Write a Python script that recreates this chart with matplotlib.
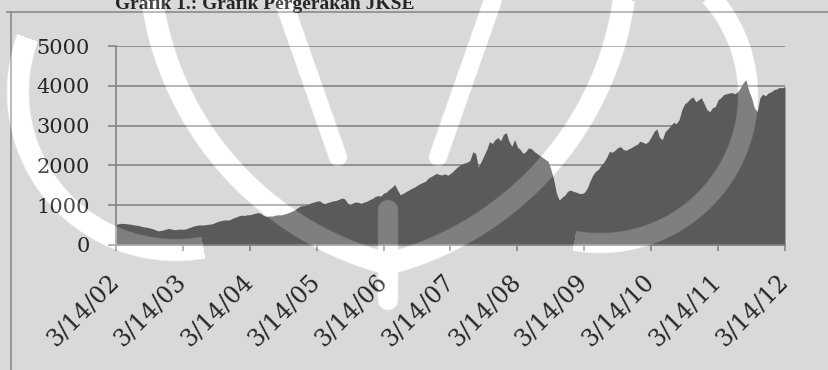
import numpy as np
import pandas as pd
import matplotlib
matplotlib.use("Agg")
import matplotlib.pyplot as plt
from matplotlib.lines import Line2D

# JKSE composite index, twice-monthly readings, Mar 2002 - Mar 2012
jkse_y02 = [520, 535, 545, 540, 530, 525, 510, 500, 490, 470, 455, 445,
            430, 410, 385, 355, 365, 380, 400, 420, 395, 385, 395, 400]
jkse_y03 = [395, 405, 430, 455, 480, 495, 505, 500, 510, 520, 525, 545,
            580, 600, 620, 630, 625, 640, 680, 700, 730, 750, 740, 760]
jkse_y04 = [760, 780, 800, 815, 790, 740, 720, 730, 725, 745, 760, 755,
            770, 790, 820, 845, 880, 930, 975, 990, 1000, 1030, 1060, 1080]
jkse_y05 = [1100, 1110, 1060, 1040, 1070, 1090, 1110, 1120, 1150, 1180, 1160, 1060,
            1010, 1060, 1080, 1070, 1050, 1080, 1100, 1140, 1170, 1220, 1240, 1230]
jkse_y06 = [1300, 1330, 1400, 1450, 1520, 1380, 1260, 1300, 1340, 1380, 1420, 1450,
            1500, 1540, 1570, 1600, 1680, 1720, 1760, 1800, 1770, 1760, 1790, 1750]
jkse_y07 = [1800, 1860, 1930, 1990, 2030, 2060, 2080, 2130, 2340, 2300, 1960, 2100,
            2250, 2400, 2600, 2550, 2650, 2700, 2620, 2780, 2820, 2600, 2480, 2650]
jkse_y08 = [2460, 2400, 2300, 2350, 2440, 2420, 2350, 2300, 2250, 2200, 2150, 2100,
            1900, 1650, 1300, 1130, 1200, 1250, 1350, 1380, 1350, 1330, 1300, 1290]
jkse_y09 = [1320, 1420, 1600, 1750, 1850, 1900, 2000, 2080, 2200, 2350, 2330, 2380,
            2450, 2470, 2400, 2380, 2420, 2450, 2500, 2530, 2610, 2580, 2550, 2600]
jkse_y10 = [2720, 2850, 2920, 2700, 2650, 2850, 2920, 3000, 3080, 3050, 3150, 3400,
            3550, 3600, 3680, 3720, 3600, 3650, 3700, 3550, 3400, 3350, 3450, 3480]
jkse_y11 = [3650, 3700, 3780, 3800, 3820, 3830, 3800, 3850, 3950, 4080, 4150, 3880,
            3700, 3450, 3350, 3700, 3790, 3750, 3820, 3850, 3900, 3920, 3960, 3950, 3980]

jkse = (jkse_y02 + jkse_y03 + jkse_y04 + jkse_y05 + jkse_y06 +
        jkse_y07 + jkse_y08 + jkse_y09 + jkse_y10 + jkse_y11)
dates = pd.date_range("2002-03-14", "2012-03-14", periods=len(jkse))

tick_labels = ["3/14/02", "3/14/03", "3/14/04", "3/14/05", "3/14/06", "3/14/07",
               "3/14/08", "3/14/09", "3/14/10", "3/14/11", "3/14/12"]
tick_dates = pd.to_datetime(tick_labels, format="%m/%d/%y")
y_ticks = [0, 1000, 2000, 3000, 4000, 5000]

title = "Grafik 1.: Grafik Pergerakan JKSE"

W, H = 829, 370
fig = plt.figure(figsize=(W / 100, H / 100), dpi=100)
fig.patch.set_facecolor("white")

ax = fig.add_axes([116 / W, 1 - 245 / H, (785 - 116) / W, (245 - 46) / H])
ax.set_facecolor("none")

grid_c = "#888888"
for v in y_ticks[1:]:
    ax.axhline(v, color=grid_c, lw=1.2, zorder=1)

ax.fill_between(dates, jkse, 0, color="#4a4a4a", lw=0, zorder=2)

ax.set_xlim(dates[0], dates[-1])
ax.set_ylim(0, 5000)
ax.set_yticks(y_ticks)
ax.set_yticklabels([str(v) for v in y_ticks], family="DejaVu Serif", fontsize=15)
ax.set_xticks(tick_dates)
ax.set_xticklabels(tick_labels, family="DejaVu Serif", fontsize=17,
                   rotation=45, ha="right", va="center", rotation_mode="anchor")

for s in ("top", "right"):
    ax.spines[s].set_visible(False)
for s in ("left", "bottom"):
    ax.spines[s].set_color(grid_c)
    ax.spines[s].set_linewidth(1.2)
    ax.spines[s].set_zorder(3)
ax.tick_params(axis="y", direction="out", length=6, width=1.2, color=grid_c, pad=13)
ax.tick_params(axis="x", direction="out", length=4, width=1.2, color=grid_c, pad=20)

# outer chart frame (extends past the right and bottom edges)
frame_c = "#909090"
fig.add_artist(Line2D([7 / W, 1], [1 - 12 / H, 1 - 12 / H], color=frame_c, lw=1.2))
fig.add_artist(Line2D([11 / W, 11 / W], [1 - 12 / H, 0], color=frame_c, lw=1.2))

fig.text(265 / W, 1 - 9 / H, title, ha="center", va="baseline",
         family="Liberation Serif", fontweight="bold", fontsize=14)

# page watermark: translucent grey emblem with light curved bands, laid over the page
yy, xx = np.mgrid[0:H, 0:W] + 0.5


def soft(dist, half_w):
    return np.clip((half_w - dist) / 1.5 + 0.5, 0, 1)


def arc_band(cx, cy, r, half_w, th0, th1):
    d = np.hypot(xx - cx, yy - cy)
    th = (np.degrees(np.arctan2(yy - cy, xx - cx)) - th0) % 360
    return soft(np.abs(d - r), half_w) * (th <= (th1 - th0))


def stroke(x0, y0, x1, y1, half_w):
    vx, vy = x1 - x0, y1 - y0
    t = np.clip(((xx - x0) * vx + (yy - y0) * vy) / (vx * vx + vy * vy), 0, 1)
    return soft(np.hypot(xx - (x0 + t * vx), yy - (y0 + t * vy)), half_w)


axis_x = 388
bands = [
    arc_band(308, -45, 319, 11, 8, 75),
    arc_band(2 * axis_x - 308, -45, 319, 11, 105, 172),
    arc_band(600, 95, 148, 10, -42, 100),
    arc_band(176, 92, 158, 11, 80, 200),
    stroke(283, 0, 338, 157, 9),
    stroke(2 * axis_x - 283, 0, 2 * axis_x - 338, 157, 9),
    stroke(axis_x, 210, axis_x, 300, 10),
]
light = np.max(bands, axis=0)
shade = 128 + 127 * light
wm = np.dstack([shade, shade, shade, np.full_like(shade, 255 * 0.3)]).astype(np.uint8)
fig.figimage(wm, 0, 0, origin="upper", zorder=10)

fig.savefig("out.png", dpi=100, facecolor=fig.get_facecolor())
